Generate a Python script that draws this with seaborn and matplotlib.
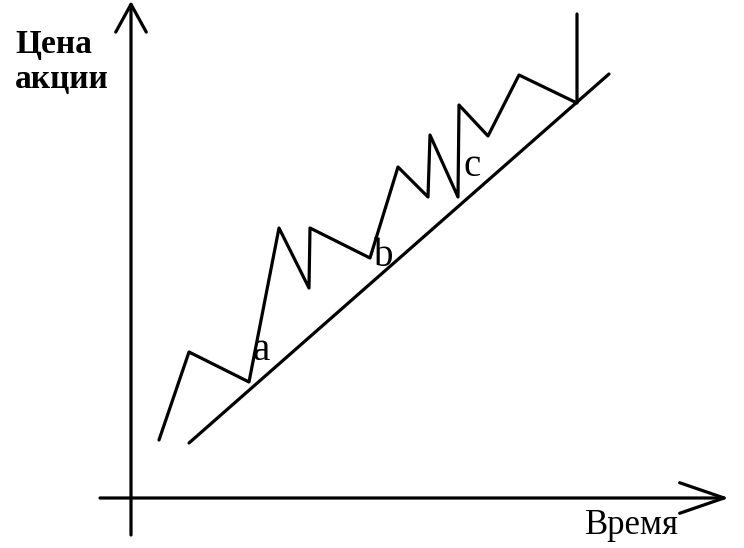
import matplotlib
matplotlib.use('Agg')
import matplotlib.pyplot as plt
import seaborn as sns
import pandas as pd

sns.set_style('white')
plt.rcParams['font.family'] = ['Liberation Serif', 'DejaVu Serif']
plt.rcParams['text.color'] = 'black'

# price path (time, price), in picture units (y up)
time = [159, 189, 249, 279, 309, 310, 370, 398, 428, 430, 458, 459, 488, 519, 577, 577]
price = [108, 196, 166, 320, 260, 320, 290, 381, 351, 413, 351, 443, 412, 473, 445, 534]

# trend line (support)
trend_time = [189, 609]
trend_price = [105, 474]

# point labels
labels = ['a', 'b', 'c']
label_time = [261, 384, 472]
label_price = [197, 291, 381]

df = pd.DataFrame({'time': time, 'price': price})
tr = pd.DataFrame({'time': trend_time, 'price': trend_price})

fig = plt.figure(figsize=(7.44, 5.48), dpi=100)
ax = fig.add_axes([0, 0, 1, 1])
ax.set_xlim(0, 744)
ax.set_ylim(0, 548)
ax.axis('off')

sns.lineplot(data=df, x='time', y='price', sort=False, estimator=None,
             color='black', linewidth=2.3, ax=ax)
sns.lineplot(data=tr, x='time', y='price', sort=False, estimator=None,
             color='black', linewidth=2.3, ax=ax)

# axes with open arrow heads
ax.annotate('', xy=(131, 547), xytext=(131, 13),
            arrowprops=dict(arrowstyle='->,head_length=1.0,head_width=0.55',
                            mutation_scale=20, color='black', lw=2.3,
                            shrinkA=0, shrinkB=0))
ax.annotate('', xy=(729, 50), xytext=(100, 50),
            arrowprops=dict(arrowstyle='->,head_length=1.6,head_width=0.55',
                            mutation_scale=20, color='black', lw=2.3,
                            shrinkA=0, shrinkB=0))

for lab, x, y in zip(labels, label_time, label_price):
    ax.text(x, y, lab, fontsize=28, ha='center', va='center')

ax.text(15, 503, 'Цена', fontsize=24, fontweight='bold', ha='left', va='center')
ax.text(15, 468, 'акции', fontsize=24, fontweight='bold', ha='left', va='center')
ax.text(632, 23, 'Время', fontsize=25, ha='center', va='center')

fig.savefig('out.png', dpi=100)
